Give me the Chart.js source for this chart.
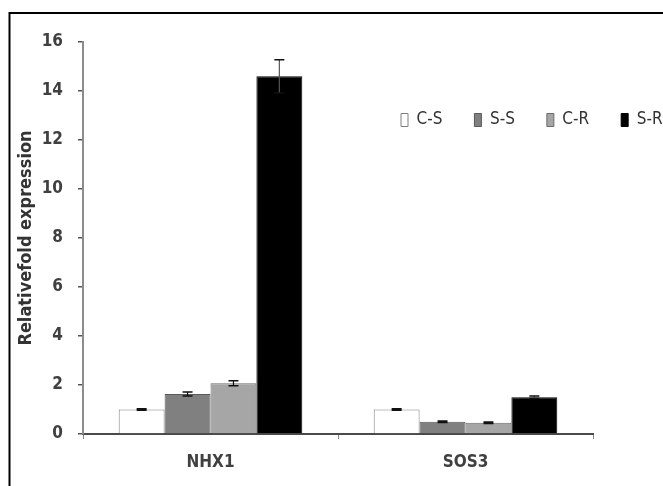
<!DOCTYPE html>
<html>
<head>
<meta charset="utf-8">
<script src="https://cdn.jsdelivr.net/npm/chart.js@4"></script>
<style>
  html, body { margin: 0; padding: 0; background: #fff; }
  #wrap { width: 663px; height: 486px; }
</style>
</head>
<body>
<div id="wrap"><canvas id="c" width="663" height="486"></canvas></div>
<script>
// ---- data ----
const categories = ['NHX1', 'SOS3'];
const seriesNames = ['C-S', 'S-S', 'C-R', 'S-R'];
const valCS = [1.0, 1.0];
const valSS = [1.63, 0.50];
const valCR = [2.07, 0.46];
const valSR = [14.6, 1.50];
const errCS = [0.03, 0.03];
const errSS = [0.08, 0.03];
const errCR = [0.10, 0.03];
const errSR = [0.68, 0.05];
const yTicks = [0, 2, 4, 6, 8, 10, 12, 14, 16];

const FONT = "'DejaVu Sans Condensed', 'DejaVu Sans', sans-serif";

const styles = [
  { bg: '#ffffff', bd: '#808080' },
  { bg: '#808080', bd: '#5a5a5a' },
  { bg: '#a6a6a6', bd: '#6a6a6a' },
  { bg: '#000000', bd: '#000000' }
];
const values = [valCS, valSS, valCR, valSR];
const errors = [errCS, errSS, errCR, errSR];

const datasets = seriesNames.map((n, i) => ({
  label: n,
  data: values[i],
  errors: errors[i],
  backgroundColor: styles[i].bg,
  borderColor: styles[i].bd,
  borderWidth: 1,
  categoryPercentage: 0.72,
  barPercentage: 1.0
}));

const framePlugin = {
  id: 'frame',
  beforeDraw(chart) {
    const ctx = chart.ctx;
    ctx.save();
    ctx.fillStyle = '#ffffff';
    ctx.fillRect(0, 0, chart.width, chart.height);
    ctx.strokeStyle = '#000000';
    ctx.lineWidth = 2;
    ctx.strokeRect(9.5, 13, chart.width + 50, chart.height + 50);
    ctx.restore();
  }
};

const errorBarPlugin = {
  id: 'errbars',
  afterDatasetsDraw(chart) {
    const ctx = chart.ctx;
    const y = chart.scales.y;
    ctx.save();
    chart.data.datasets.forEach((ds, di) => {
      const meta = chart.getDatasetMeta(di);
      meta.data.forEach((bar, j) => {
        const v = ds.data[j], e = ds.errors[j];
        const yt = y.getPixelForValue(v + e);
        const yb = y.getPixelForValue(v - e);
        const cap = 5;
        ctx.strokeStyle = di === 3 ? '#555' : '#111';
        ctx.lineWidth = 1.2;
        ctx.beginPath();
        ctx.moveTo(bar.x, yt); ctx.lineTo(bar.x, yb);
        ctx.stroke();
        ctx.strokeStyle = '#111';
        ctx.lineWidth = 1.5;
        ctx.beginPath();
        ctx.moveTo(bar.x - cap, yt); ctx.lineTo(bar.x + cap, yt);
        ctx.moveTo(bar.x - cap, yb); ctx.lineTo(bar.x + cap, yb);
        ctx.stroke();
      });
    });
    ctx.restore();
  }
};

// legend: placed over the plot area, like the original figure
const legendMovePlugin = {
  id: 'legendMove',
  beforeLayout(chart) {
    const lg = chart.legend;
    if (lg && !lg._patched) {
      const f = lg.fit;
      lg.fit = function () { f.call(this); this.height = 0; };
      lg._patched = true;
    }
  },
  afterLayout(chart) {
    const lg = chart.legend;
    if (!lg) return;
    const pad = lg.options.labels.padding;
    lg.left = 401 - pad;
    lg.right = 5000;
    lg.top = 120 - pad - 8.5;
    lg.bottom = lg.top + 60;
  }
};

new Chart(document.getElementById('c'), {
  type: 'bar',
  data: { labels: categories, datasets },
  plugins: [framePlugin, errorBarPlugin, legendMovePlugin],
  options: {
    responsive: false,
    animation: false,
    devicePixelRatio: 1,
    layout: { padding: { left: 0, right: 70, top: 42, bottom: 0 } },
    plugins: {
      tooltip: { enabled: false },
      legend: {
        position: 'top',
        align: 'start',
        labels: {
          boxWidth: 7,
          boxHeight: 13,
          padding: 32,
          color: '#333333',
          font: { family: FONT, size: 17 }
        }
      }
    },
    scales: {
      x: {
        offset: true,
        grid: {
          offset: true,
          drawOnChartArea: false,
          drawTicks: true,
          tickLength: 5,
          color: '#888888',
          lineWidth: 1
        },
        border: { color: '#4a4a4a', width: 2 },
        ticks: {
          padding: 13,
          color: '#404040',
          font: { family: FONT, size: 17, weight: 'bold' }
        },
        afterFit(s) { s.height = 52; }
      },
      y: {
        min: 0,
        max: 16,
        afterBuildTicks(s) { s.ticks = yTicks.map(v => ({ value: v })); },
        grid: {
          drawOnChartArea: false,
          drawTicks: true,
          tickLength: 5,
          color: '#555555',
          lineWidth: 1.5
        },
        border: { color: '#8c8c8c', width: 2 },
        ticks: {
          padding: 15,
          color: '#404040',
          font: { family: FONT, size: 17, weight: 'bold' }
        },
        title: {
          display: true,
          text: 'Relativefold expression',
          color: '#333333',
          padding: { top: 16, bottom: 0 },
          font: { family: FONT, size: 18, weight: 'bold' }
        },
        afterFit(s) { s.width = 83; }
      }
    }
  }
});
</script>
</body>
</html>
